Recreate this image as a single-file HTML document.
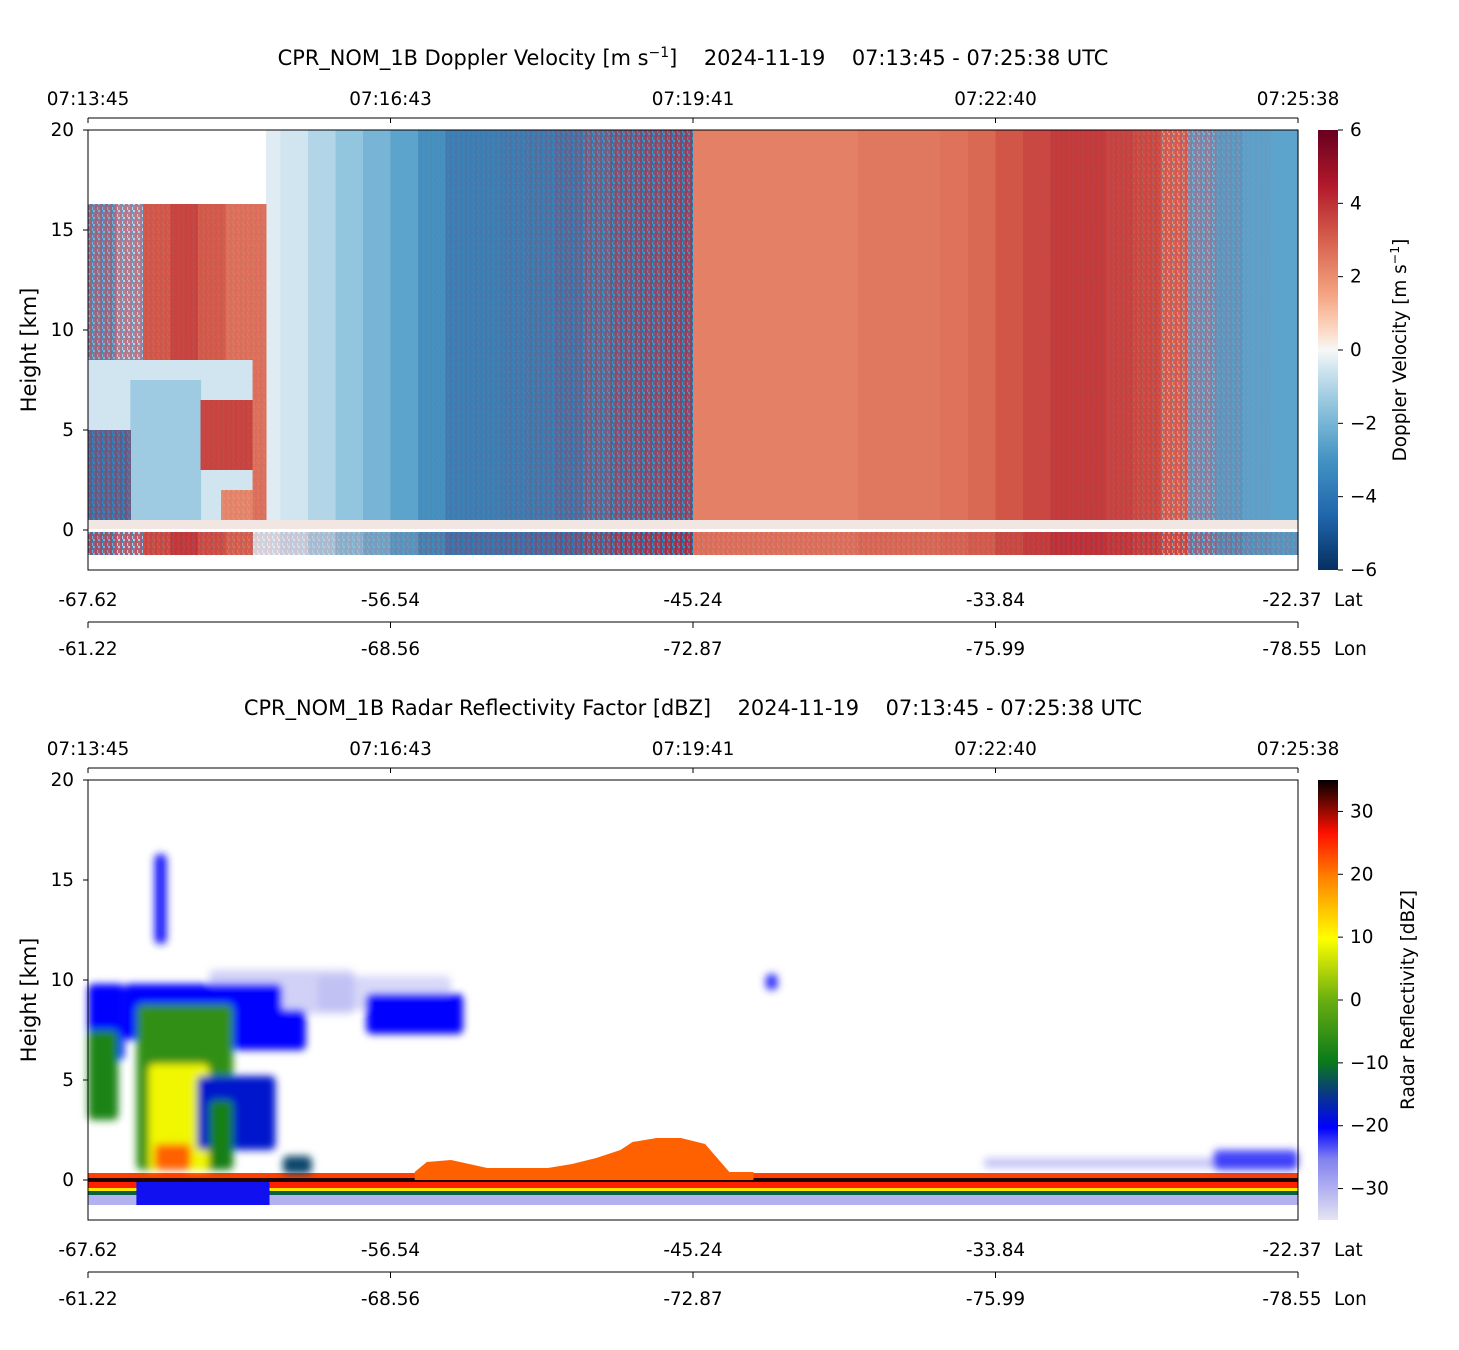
<!DOCTYPE html>
<html><head><meta charset="utf-8"><style>
body{margin:0;background:#fff;}
svg{display:block;font-family:"DejaVu Sans","Liberation Sans",sans-serif;}
</style></head><body>
<svg id="fig" width="1459" height="1350" viewBox="0 0 1459 1350">
<defs>
<linearGradient id="cbV" x1="0" y1="1" x2="0" y2="0">
<stop offset="0" stop-color="#053061"/><stop offset="0.125" stop-color="#2166ac"/><stop offset="0.25" stop-color="#4393c3"/><stop offset="0.375" stop-color="#92c5de"/><stop offset="0.458" stop-color="#d1e5f0"/><stop offset="0.5" stop-color="#f7f7f7"/><stop offset="0.542" stop-color="#fddbc7"/><stop offset="0.625" stop-color="#f4a582"/><stop offset="0.75" stop-color="#d6604d"/><stop offset="0.875" stop-color="#b2182b"/><stop offset="1" stop-color="#67001f"/>
</linearGradient>
<linearGradient id="cbZ" x1="0" y1="1" x2="0" y2="0">
<stop offset="0" stop-color="#e4e4f2"/><stop offset="0.14" stop-color="#8080f0"/><stop offset="0.21" stop-color="#0000ff"/><stop offset="0.29" stop-color="#0a3a80"/><stop offset="0.36" stop-color="#0a7a1a"/><stop offset="0.5" stop-color="#6aae10"/><stop offset="0.64" stop-color="#ffff00"/><stop offset="0.78" stop-color="#ff8000"/><stop offset="0.88" stop-color="#ff1000"/><stop offset="1" stop-color="#000000"/>
</linearGradient>
<pattern id="mixPat" width="5" height="7" patternUnits="userSpaceOnUse">
<rect x="0" y="0" width="2" height="7" fill="#b2182b"/><rect x="2" y="0" width="1" height="4" fill="#1d5a9a"/><rect x="3" y="2" width="2" height="5" fill="#c0283a"/>
</pattern>
<filter id="soft" x="-20%" y="-20%" width="140%" height="140%"><feGaussianBlur stdDeviation="4"/></filter>
</defs>
<g id="topPanel"></g>
<g id="botPanel"></g>
</svg>
<script>
const NS="http://www.w3.org/2000/svg";
const timeTicks=["07:13:45","07:16:43","07:19:41","07:22:40","07:25:38"];
const latTicks=["-67.62","-56.54","-45.24","-33.84","-22.37"];
const lonTicks=["-61.22","-68.56","-72.87","-75.99","-78.55"];
const heightTicks=[0,5,10,15,20];
const velTicks=[-6,-4,-2,0,2,4,6];
const dbzTicks=[-30,-20,-10,0,10,20,30];
// Doppler column mean velocities (44 columns across track)
const dopV=[-2,-1,3,3.5,3,2.5,-0.3,-0.5,-1,-1.5,-2,-2.5,-3,-3.5,-3.5,-3.5,-3.5,-3.5,-3,-3,-3,-3,2.3,2.3,2.3,2.3,2.3,2.3,2.5,2.5,2.5,2.6,2.8,3.2,3.5,3.7,3.7,3.5,3.2,2,-2,-2.5,-2.5,-2.5];
// fraction of mixed red/blue speckle per column
const dopMix=[0.5,0.5,0.15,0.1,0.1,0.1,0,0,0,0,0,0,0.05,0.1,0.1,0.15,0.2,0.3,0.45,0.55,0.6,0.65,0,0,0,0,0,0,0,0,0,0,0,0,0,0.1,0.1,0.15,0.25,0.45,0.35,0.15,0.05,0];
const dopTop=[16.3,16.3,16.3,16.3,16.3,16.3,20,20,20,20,20,20,20,20,20,20,20,20,20,20,20,20,20,20,20,20,20,20,20,20,20,20,20,20,20,20,20,20,20,20,20,20,20,20];
// low-level patches: [x0frac,x1frac,h0km,h1km,velocity,mix]
const dopPatch=[[0,0.147,0.5,8.5,-0.5,0],[0.035,0.093,0.5,7.5,-1.3,0],[0,0.035,0.5,5,-3.5,0.4],[0.093,0.147,3,6.5,3.5,0.1],[0.11,0.147,0.5,2,2,0.1],[0.136,0.147,0.5,16.3,2.5,0.1]];

// reflectivity features: [x0frac,x1frac,h0km,h1km,dBZ,opacity]
const zFeat=[[0.1,0.22,8.3,10.5,-30,0.6],[0.19,0.3,8.5,10.2,-30,0.5],[0,0.03,6,9.8,-20,1],[0,0.025,3,7.5,-8,1],[0.03,0.16,7,9.8,-20,1],[0.11,0.18,6.5,8.5,-20,1],[0.04,0.12,0.5,8.8,-6,1],[0.05,0.1,0.5,5.8,9,1],[0.055,0.085,0.5,1.8,22,1],[0.09,0.155,1.5,5.2,-18,1],[0.1,0.12,0.5,4,-9,1],[0.23,0.31,7.3,9.3,-20,1],[0.055,0.065,11.8,16.3,-21,1],[0.161,0.185,0.3,1.2,-14,1],[0.56,0.57,9.5,10.3,-22,1],[0.74,1,0.6,1.1,-28,0.6],[0.93,1,0.5,1.5,-22,0.9]];
const moundX=[0.27,0.28,0.3,0.33,0.36,0.38,0.4,0.42,0.44,0.45,0.47,0.49,0.51,0.52,0.53,0.55];
const moundH=[0.4,0.9,1.0,0.6,0.6,0.6,0.8,1.1,1.5,1.9,2.1,2.1,1.8,1.1,0.4,0.4];

function el(p,t,a){const e=document.createElementNS(NS,t);for(const k in a)e.setAttribute(k,a[k]);p.appendChild(e);return e;}
function lerp(a,b,t){return a+(b-a)*t;}
function hex(c){return [parseInt(c.slice(1,3),16),parseInt(c.slice(3,5),16),parseInt(c.slice(5,7),16)];}
function cmap(stops,v){if(v<=stops[0][0])return stops[0][1];for(let i=1;i<stops.length;i++){if(v<=stops[i][0]){const t=(v-stops[i-1][0])/(stops[i][0]-stops[i-1][0]);const a=hex(stops[i-1][1]),b=hex(stops[i][1]);return `rgb(${a.map((x,j)=>Math.round(lerp(x,b[j],t))).join(",")})`;}}return stops[stops.length-1][1];}
const RdBu=[[-6,"#053061"],[-4.5,"#2166ac"],[-3,"#4393c3"],[-1.5,"#92c5de"],[-0.5,"#d1e5f0"],[0,"#f7f7f7"],[0.5,"#fddbc7"],[1.5,"#f4a582"],[3,"#d6604d"],[4.5,"#b2182b"],[6,"#67001f"]];
const Zmap=[[-35,"#e4e4f2"],[-25,"#8080f0"],[-20,"#0000ff"],[-15,"#0a3a80"],[-10,"#0a7a1a"],[0,"#6aae10"],[10,"#ffff00"],[20,"#ff8000"],[27,"#ff1000"],[35,"#000000"]];

const X0=88,X1=1298;
const FT=20.9,FS=18.4;
function xs(f){return X0+f*(X1-X0);}
function txt(p,a,s){const t=el(p,"text",a);t.textContent=s;return t;}
function panel(g,Y0,title,cbId,cbTicks,cbMin,cbMax,cbLabel,cbLabelX,titleSup){
  const ys=h=>Y0+400-h*20;
  const t=el(g,"text",{x:693,y:Y0-65,"text-anchor":"middle","font-size":FT});
  
  
  t.style.whiteSpace='pre';
  if(titleSup){t.innerHTML='CPR_NOM_1B Doppler Velocity [m s<tspan dy="-8" font-size="14">−1</tspan><tspan dy="8">]    2024-11-19    07:13:45 - 07:25:38 UTC</tspan>';}
  else{t.textContent=title;}
  const ta=el(g,"g",{});
  
  
  el(ta,"line",{x1:X0,x2:X1,y1:Y0-12,y2:Y0-12,stroke:"#000"});
  timeTicks.forEach((s,i)=>{const x=xs(i/4);el(ta,"line",{x1:x,x2:x,y1:Y0-12,y2:Y0-7,stroke:"#000"});txt(ta,{x:x,y:Y0-25,"text-anchor":"middle","font-size":FS},s);});
  const ha=el(g,"g",{});
  
  
  heightTicks.forEach(h=>{const y=ys(h);el(ha,"line",{x1:X0-5,x2:X0,y1:y,y2:y,stroke:"#000"});txt(ha,{x:X0-14,y:y+6,"text-anchor":"end","font-size":FS},String(h));});
  const yl=txt(ha,{x:36,y:Y0+220,"text-anchor":"middle","font-size":FT,transform:`rotate(-90 36 ${Y0+220})`},"Height [km]");
  
  
  const la=el(g,"g",{});
  
  
  latTicks.forEach((s,i)=>{txt(la,{x:xs(i/4)-(i==4?6:0),y:Y0+476,"text-anchor":"middle","font-size":FS},s);});
  txt(la,{x:1334,y:Y0+476,"font-size":FS},"Lat");
  el(la,"line",{x1:X0,x2:X1,y1:Y0+492,y2:Y0+492,stroke:"#000"});
  lonTicks.forEach((s,i)=>{const x=xs(i/4);el(la,"line",{x1:x,x2:x,y1:Y0+492,y2:Y0+498,stroke:"#000"});txt(la,{x:x-(i==4?6:0),y:Y0+525,"text-anchor":"middle","font-size":FS},s);});
  txt(la,{x:1334,y:Y0+525,"font-size":FS},"Lon");
  const cb=el(g,"g",{});
  
  
  el(cb,"rect",{x:1318,y:Y0,width:20,height:440,fill:`url(#${cbId})`});
  cbTicks.forEach(v=>{const y=Y0+(cbMax-v)/(cbMax-cbMin)*440;el(cb,"line",{x1:1338,x2:1343,y1:y,y2:y,stroke:"#000"});txt(cb,{x:1350,y:y+6,"font-size":FS},(v<0?"−"+(-v):String(v)));});
  const cl=el(cb,"text",{x:cbLabelX,y:Y0+220,"text-anchor":"middle","font-size":FS,transform:`rotate(-90 ${cbLabelX} ${Y0+220})`});
  if(titleSup){cl.innerHTML='Doppler Velocity [m s<tspan dy="-7" font-size="12.5">−1</tspan><tspan dy="7">]</tspan>';}else cl.textContent=cbLabel;
  
  
  return ys;
}
const topG=document.getElementById("topPanel"),botG=document.getElementById("botPanel");
const ysT=panel(topG,130,"","cbV",velTicks,-6,6,"",1406,true);
const dataT=el(topG,"g",{});


const n=dopV.length,w=1/n;
function vrect(x0,x1,h0,h1,v,mix,name){
  const r=el(dataT,"rect",{x:xs(x0),y:ysT(h1),width:xs(x1)-xs(x0)+0.6,height:ysT(h0)-ysT(h1),fill:cmap(RdBu,v)});
  
  
  if(mix>0){el(dataT,"rect",{x:xs(x0),y:ysT(h1),width:xs(x1)-xs(x0)+0.6,height:ysT(h0)-ysT(h1),fill:"url(#mixPat)",opacity:mix});}
}
dopV.forEach((v,i)=>{
  vrect(i*w,(i+1)*w,0.5,dopTop[i],v,dopMix[i],'velocity-column');
  vrect(i*w,(i+1)*w,-1.25,-0.1,v*1.05,Math.min(1,dopMix[i]+0.15),'surface-column');
  el(dataT,"rect",{x:xs(i*w),y:ysT(0.5),width:(X1-X0)*w+0.6,height:ysT(0.05)-ysT(0.5),fill:"#f2e6e2"});
});
el(dataT,"rect",{x:xs(0.136),y:ysT(20),width:xs(0.147)-xs(0.136),height:ysT(16.3)-ysT(20),fill:"#fff"});
dopPatch.forEach(p=>vrect(p[0],p[1],p[2],p[3],p[4],p[5],'low-layer-patch'));
el(topG,"rect",{x:X0,y:130,width:X1-X0,height:440,fill:"none",stroke:"#000"});

const ysB=panel(botG,780,"CPR_NOM_1B Radar Reflectivity Factor [dBZ]    2024-11-19    07:13:45 - 07:25:38 UTC","cbZ",dbzTicks,-35,35,"Radar Reflectivity [dBZ]",1414,false);
const dataB=el(botG,"g",{});


[[-1.25,-0.75,-30],[-0.75,-0.55,-12],[-0.55,-0.4,12],[-0.4,-0.1,26],[-0.1,0.1,34],[0.1,0.35,24]].forEach(b=>{
  const r=el(dataB,"rect",{x:X0,y:ysB(b[1]),width:X1-X0,height:ysB(b[0])-ysB(b[1]),fill:cmap(Zmap,b[2])});
  
  });
const pts=moundX.map((f,i)=>`${xs(f)},${ysB(moundH[i])}`);
const m=el(dataB,"polygon",{points:`${xs(moundX[0])},${ysB(0)} ${pts.join(" ")} ${xs(moundX[moundX.length-1])},${ysB(0)}`,fill:cmap(Zmap,22)});


const fg=el(dataB,"g",{filter:"url(#soft)"});
zFeat.forEach(f=>{const r=el(fg,"rect",{x:xs(f[0]),y:ysB(f[3]),width:xs(f[1])-xs(f[0]),height:ysB(f[2])-ysB(f[3]),fill:cmap(Zmap,f[4]),opacity:f[5],rx:5});
  
  });
const bl=el(dataB,"rect",{x:xs(0.04),y:ysB(-0.1),width:xs(0.15)-xs(0.04),height:ysB(-1.25)-ysB(-0.1),fill:"#1010f0"});


el(botG,"rect",{x:X0,y:780,width:X1-X0,height:440,fill:"none",stroke:"#000"});
</script>
</body></html>
